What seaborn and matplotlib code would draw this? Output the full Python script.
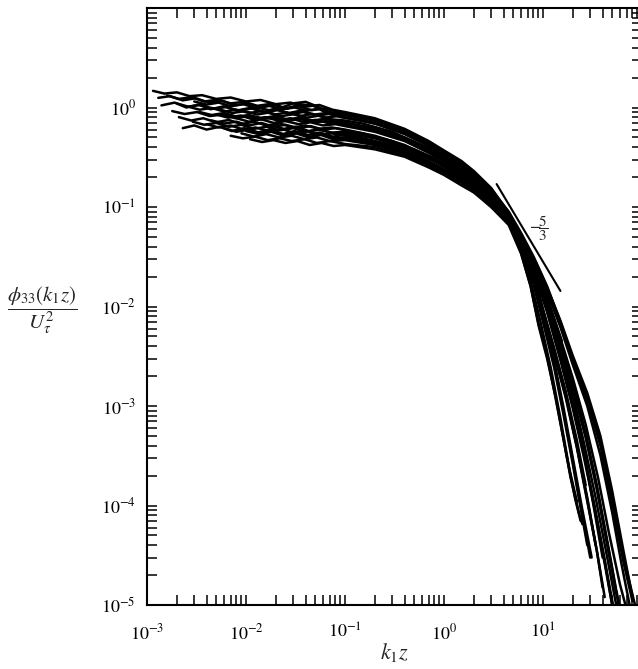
import numpy as np
import pandas as pd
import matplotlib
matplotlib.use("Agg")
import matplotlib.pyplot as plt
import seaborn as sns

# ---- data ----
k01 = [1.15e-3, 1.5e-3, 2.0e-3, 2.7e-3, 3.6e-3, 5e-3, 7e-3, 1e-2, 1.4e-2, 2e-2, 2.8e-2, 4e-2, 5.5e-2, 7.5e-2, 0.1, 0.2, 0.4, 0.7, 1.0, 1.5, 2.0, 3.0, 4.5, 6, 8, 11, 15, 20, 26, 33, 42, 50]
p01 = [1.47, 1.38, 1.42, 1.30, 1.33, 1.22, 1.26, 1.15, 1.19, 1.08, 1.12, 1.02, 1.06, 0.95, 0.90, 0.78, 0.61, 0.46, 0.37, 0.29, 0.23, 0.155, 0.088, 0.051, 0.025, 9.5e-3, 3.1e-3, 1.0e-3, 3.3e-4, 1.0e-4, 2.8e-5, 1.0e-5]
k02 = [1.3e-3, 1.7e-3, 2.3e-3, 3.1e-3, 4.2e-3, 5.7e-3, 7.7e-3, 1.05e-2, 1.4e-2, 1.9e-2, 2.6e-2, 3.5e-2, 4.8e-2, 6.5e-2, 0.1, 0.2, 0.4, 0.7, 1.0, 1.5, 2.0, 3.0, 4.5, 6, 8, 11, 15, 20, 28, 38, 50, 65, 85]
p02 = [1.25, 1.30, 1.18, 1.24, 1.12, 1.17, 1.05, 1.10, 1.00, 1.06, 0.97, 1.08, 1.04, 0.88, 0.85, 0.74, 0.58, 0.44, 0.35, 0.28, 0.22, 0.15, 0.09, 0.055, 0.032, 0.016, 7e-3, 3e-3, 1.2e-3, 4.5e-4, 1.2e-4, 3e-5, 1e-5]
k03 = [1.6e-3, 2.1e-3, 2.8e-3, 3.8e-3, 5.2e-3, 7e-3, 9.5e-3, 1.3e-2, 1.8e-2, 2.5e-2, 3.4e-2, 4.6e-2, 6.3e-2, 8.5e-2, 0.12, 0.2, 0.4, 0.7, 1.0, 1.5, 2.0, 3.0, 4.5, 6, 8, 10, 13, 16, 20, 25, 30]
p03 = [1.32, 1.22, 1.27, 1.15, 1.20, 1.10, 1.14, 1.04, 1.09, 0.99, 1.03, 0.94, 0.98, 0.90, 0.84, 0.76, 0.60, 0.45, 0.36, 0.28, 0.21, 0.14, 0.078, 0.041, 0.018, 7.5e-3, 2.6e-3, 9e-4, 2.8e-4, 8e-5, 3e-5]
k04 = [1.8e-3, 2.4e-3, 3.2e-3, 4.3e-3, 5.8e-3, 7.8e-3, 1.05e-2, 1.4e-2, 1.9e-2, 2.6e-2, 3.5e-2, 4.8e-2, 6.5e-2, 0.1, 0.2, 0.4, 0.7, 1.0, 1.5, 2.0, 3.0, 4.5, 6, 8, 11, 15, 20, 27, 35, 45, 58]
p04 = [0.92, 0.86, 0.90, 0.82, 0.85, 0.78, 0.82, 0.76, 0.79, 0.73, 0.77, 0.71, 0.73, 0.67, 0.58, 0.47, 0.36, 0.30, 0.235, 0.19, 0.13, 0.08, 0.048, 0.026, 0.011, 4.2e-3, 1.6e-3, 5e-4, 1.5e-4, 4e-5, 1e-5]
k05 = [2.0e-3, 2.6e-3, 3.5e-3, 4.7e-3, 6.3e-3, 8.5e-3, 1.15e-2, 1.55e-2, 2.1e-2, 2.8e-2, 3.8e-2, 5.1e-2, 6.9e-2, 0.1, 0.2, 0.4, 0.7, 1.0, 1.5, 2.0, 3.0, 4.5, 6, 8, 10, 13, 17, 22, 28, 35, 42]
p05 = [1.10, 1.02, 1.06, 0.97, 1.01, 0.93, 0.98, 0.90, 0.94, 0.86, 0.90, 0.83, 0.86, 0.80, 0.70, 0.55, 0.42, 0.34, 0.26, 0.21, 0.135, 0.08, 0.045, 0.021, 9e-3, 3.5e-3, 1.3e-3, 4e-4, 1.2e-4, 3.5e-5, 1.2e-5]
k06 = [2.1e-3, 2.8e-3, 3.7e-3, 5e-3, 6.7e-3, 9e-3, 1.2e-2, 1.6e-2, 2.2e-2, 3e-2, 4e-2, 5.4e-2, 7.3e-2, 0.1, 0.2, 0.4, 0.7, 1.0, 1.5, 2.0, 3.0, 4.5, 6, 7.5, 9, 11, 13.5, 17, 21, 24]
p06 = [0.80, 0.74, 0.78, 0.71, 0.75, 0.68, 0.72, 0.66, 0.69, 0.63, 0.66, 0.61, 0.63, 0.60, 0.52, 0.42, 0.32, 0.27, 0.21, 0.17, 0.12, 0.07, 0.035, 0.016, 6.5e-3, 3e-3, 1.2e-3, 3.5e-4, 1.2e-4, 7e-5]
k07 = [2.6e-3, 3.4e-3, 4.5e-3, 6e-3, 8e-3, 1.07e-2, 1.45e-2, 1.95e-2, 2.6e-2, 3.5e-2, 4.7e-2, 6.3e-2, 8.5e-2, 0.12, 0.2, 0.4, 0.7, 1.0, 1.5, 2.0, 3.0, 4.5, 6, 8, 11, 15, 20, 26, 33, 42, 52]
p07 = [1.02, 0.95, 0.99, 0.91, 0.95, 0.88, 0.92, 0.85, 0.89, 0.82, 0.86, 0.79, 0.82, 0.76, 0.69, 0.54, 0.41, 0.33, 0.26, 0.205, 0.14, 0.085, 0.05, 0.024, 9e-3, 3e-3, 1e-3, 3.2e-4, 1e-4, 2.8e-5, 9e-6]
k08 = [2.9e-3, 3.8e-3, 5e-3, 6.7e-3, 9e-3, 1.2e-2, 1.6e-2, 2.2e-2, 3e-2, 4e-2, 5.4e-2, 7.3e-2, 0.1, 0.2, 0.4, 0.7, 1.0, 1.5, 2.0, 3.0, 4.5, 6, 8, 11, 15, 20, 28, 38, 50, 62, 75]
p08 = [0.72, 0.67, 0.70, 0.64, 0.67, 0.61, 0.64, 0.59, 0.62, 0.57, 0.60, 0.56, 0.57, 0.50, 0.40, 0.31, 0.26, 0.20, 0.165, 0.115, 0.075, 0.048, 0.029, 0.014, 6.2e-3, 2.6e-3, 1.0e-3, 3.2e-4, 8.5e-5, 2.6e-5, 1.0e-5]
k09 = [3.4e-3, 4.5e-3, 6e-3, 8e-3, 1.07e-2, 1.45e-2, 1.95e-2, 2.6e-2, 3.5e-2, 4.7e-2, 6.3e-2, 8.5e-2, 0.12, 0.2, 0.4, 0.7, 1.0, 1.5, 2.0, 3.0, 4.5, 6, 8, 10, 13, 17, 22, 28, 35, 40]
p09 = [0.90, 0.84, 0.88, 0.81, 0.84, 0.78, 0.82, 0.76, 0.79, 0.74, 0.77, 0.72, 0.68, 0.62, 0.50, 0.39, 0.32, 0.25, 0.20, 0.13, 0.078, 0.044, 0.02, 8.5e-3, 3.3e-3, 1.2e-3, 3.8e-4, 1.1e-4, 3.5e-5, 1.5e-5]
k10 = [4e-3, 5.3e-3, 7e-3, 9.4e-3, 1.25e-2, 1.7e-2, 2.3e-2, 3.1e-2, 4.1e-2, 5.5e-2, 7.4e-2, 0.1, 0.2, 0.4, 0.7, 1.0, 1.5, 2.0, 3.0, 4.5, 6, 8, 10, 13, 16, 20, 25, 28]
p10 = [0.68, 0.63, 0.66, 0.60, 0.63, 0.58, 0.61, 0.55, 0.58, 0.53, 0.55, 0.52, 0.46, 0.37, 0.29, 0.24, 0.19, 0.155, 0.11, 0.07, 0.039, 0.017, 7e-3, 2.4e-3, 8.5e-4, 2.6e-4, 7.5e-5, 4e-5]
k11 = [5e-3, 6.6e-3, 8.8e-3, 1.17e-2, 1.56e-2, 2.1e-2, 2.8e-2, 3.7e-2, 5e-2, 6.7e-2, 9e-2, 0.12, 0.2, 0.4, 0.7, 1.0, 1.5, 2.0, 3.0, 4.5, 6, 8, 11, 15, 20, 27, 35, 45, 55, 62]
p11 = [0.85, 0.79, 0.83, 0.76, 0.80, 0.74, 0.78, 0.72, 0.75, 0.70, 0.72, 0.68, 0.60, 0.49, 0.38, 0.31, 0.245, 0.195, 0.135, 0.082, 0.05, 0.027, 0.0115, 4.4e-3, 1.7e-3, 5.3e-4, 1.6e-4, 4.2e-5, 1.4e-5, 8e-6]
k12 = [6e-3, 8e-3, 1.07e-2, 1.43e-2, 1.9e-2, 2.5e-2, 3.4e-2, 4.5e-2, 6e-2, 8e-2, 0.1, 0.2, 0.4, 0.7, 1.0, 1.5, 2.0, 3.0, 4.5, 6, 8, 11, 15, 20, 26, 33, 42, 50]
p12 = [0.62, 0.57, 0.60, 0.55, 0.58, 0.53, 0.56, 0.51, 0.54, 0.49, 0.50, 0.44, 0.36, 0.28, 0.235, 0.185, 0.15, 0.105, 0.07, 0.045, 0.023, 8.8e-3, 2.9e-3, 9.5e-4, 3e-4, 9.5e-5, 2.6e-5, 1e-5]
k13 = [7e-3, 9.3e-3, 1.24e-2, 1.65e-2, 2.2e-2, 2.9e-2, 3.9e-2, 5.2e-2, 7e-2, 0.1, 0.2, 0.4, 0.7, 1.0, 1.5, 2.0, 3.0, 4.5, 6, 8, 10, 13, 17, 22, 28, 34]
p13 = [0.52, 0.49, 0.51, 0.47, 0.49, 0.46, 0.48, 0.44, 0.46, 0.43, 0.40, 0.33, 0.26, 0.22, 0.175, 0.145, 0.10, 0.068, 0.042, 0.02, 8.8e-3, 3.4e-3, 1.25e-3, 3.9e-4, 1.15e-4, 4e-5]
k14 = [8e-3, 1.07e-2, 1.43e-2, 1.9e-2, 2.5e-2, 3.4e-2, 4.5e-2, 6e-2, 8e-2, 0.1, 0.2, 0.4, 0.7, 1.0, 1.5, 2.0, 3.0, 4.5, 6, 8, 11, 15, 20, 28, 38, 50, 65, 80]
p14 = [0.78, 0.72, 0.76, 0.70, 0.73, 0.68, 0.71, 0.66, 0.68, 0.65, 0.57, 0.46, 0.35, 0.29, 0.225, 0.18, 0.125, 0.08, 0.05, 0.03, 0.015, 6.6e-3, 2.8e-3, 1.15e-3, 4e-4, 1.05e-4, 2.7e-5, 1.1e-5]
k15 = [9e-3, 1.2e-2, 1.6e-2, 2.15e-2, 2.9e-2, 3.9e-2, 5.2e-2, 7e-2, 0.1, 0.2, 0.4, 0.7, 1.0, 1.5, 2.0, 3.0, 4.5, 6, 8, 11, 15, 20, 27, 35, 45, 55]
p15 = [0.55, 0.51, 0.54, 0.50, 0.52, 0.48, 0.50, 0.46, 0.47, 0.42, 0.345, 0.27, 0.225, 0.18, 0.148, 0.105, 0.072, 0.046, 0.025, 0.0105, 4e-3, 1.5e-3, 4.8e-4, 1.45e-4, 3.8e-5, 1.3e-5]
k16 = [1.1e-2, 1.45e-2, 1.9e-2, 2.5e-2, 3.3e-2, 4.4e-2, 5.8e-2, 7.7e-2, 0.1, 0.2, 0.4, 0.7, 1.0, 1.5, 2.0, 3.0, 4.5, 6, 7.5, 9, 11, 13, 16, 19, 23, 25]
p16 = [0.48, 0.45, 0.47, 0.44, 0.46, 0.42, 0.44, 0.41, 0.42, 0.38, 0.32, 0.25, 0.21, 0.165, 0.14, 0.10, 0.066, 0.034, 0.016, 6.8e-3, 3.2e-3, 1.4e-3, 4.8e-4, 1.9e-4, 8.5e-5, 6.5e-5]
k17 = [1.3e-2, 1.7e-2, 2.3e-2, 3e-2, 4e-2, 5.3e-2, 7e-2, 0.1, 0.2, 0.4, 0.7, 1.0, 1.5, 2.0, 3.0, 4.5, 6, 8, 10, 13, 16, 20, 25, 31]
p17 = [1.00, 0.94, 1.00, 1.10, 1.14, 1.02, 0.88, 0.84, 0.74, 0.58, 0.44, 0.36, 0.27, 0.215, 0.14, 0.08, 0.042, 0.019, 8e-3, 2.8e-3, 1e-3, 3e-4, 9e-5, 3e-5]
k18 = [1.8e-2, 2.4e-2, 3.2e-2, 4.3e-2, 5.7e-2, 7.6e-2, 0.1, 0.2, 0.4, 0.7, 1.0, 1.5, 2.0, 3.0, 4.5, 6, 8, 10, 12.5, 15.5]
p18 = [0.66, 0.61, 0.64, 0.58, 0.60, 0.55, 0.55, 0.49, 0.40, 0.31, 0.255, 0.20, 0.165, 0.12, 0.08, 0.05, 0.03, 0.017, 8.5e-3, 4.5e-3]
k19 = [1.4e-3, 1.9e-3, 2.5e-3, 3.3e-3, 4.4e-3, 6e-3, 8e-3, 1.1e-2, 1.5e-2, 2e-2, 2.7e-2, 3.6e-2, 4.9e-2, 6.6e-2, 9e-2, 0.15, 0.3, 0.5, 0.8, 1.2, 2.0, 3.0, 4.5, 6, 8, 11, 15, 20, 26, 34, 44, 56]
p19 = [1.05, 1.12, 1.00, 1.07, 0.96, 1.03, 0.93, 0.99, 0.90, 0.96, 0.88, 0.93, 0.85, 0.88, 0.80, 0.74, 0.62, 0.50, 0.40, 0.32, 0.22, 0.145, 0.085, 0.052, 0.027, 0.011, 3.8e-3, 1.3e-3, 4.2e-4, 1.2e-4, 3.2e-5, 9e-6]
k20 = [2.3e-3, 3e-3, 4e-3, 5.4e-3, 7.2e-3, 9.6e-3, 1.3e-2, 1.75e-2, 2.35e-2, 3.1e-2, 4.2e-2, 5.6e-2, 7.5e-2, 0.1, 0.15, 0.3, 0.5, 0.8, 1.2, 2.0, 3.0, 4.5, 6, 8, 11, 15, 20, 27, 36, 46, 60, 70]
p20 = [0.62, 0.66, 0.60, 0.64, 0.58, 0.62, 0.56, 0.60, 0.54, 0.58, 0.53, 0.56, 0.51, 0.53, 0.49, 0.42, 0.35, 0.29, 0.23, 0.16, 0.11, 0.074, 0.047, 0.027, 0.012, 4.8e-3, 1.9e-3, 6.5e-4, 1.9e-4, 5.5e-5, 1.6e-5, 9e-6]
k21 = [3e-3, 4e-3, 5.3e-3, 7e-3, 9.4e-3, 1.25e-2, 1.7e-2, 2.3e-2, 3.1e-2, 4.1e-2, 5.5e-2, 7.4e-2, 0.1, 0.15, 0.3, 0.5, 0.8, 1.2, 2.0, 3.0, 4.5, 6, 8, 10, 13, 17, 22, 27]
p21 = [1.15, 1.07, 1.12, 1.03, 1.08, 0.99, 1.04, 0.96, 1.00, 0.93, 0.97, 0.89, 0.86, 0.80, 0.66, 0.52, 0.41, 0.32, 0.215, 0.14, 0.082, 0.046, 0.022, 9.5e-3, 3.8e-3, 1.4e-3, 4.5e-4, 1.6e-4]
k22 = [4.5e-3, 6e-3, 8e-3, 1.07e-2, 1.43e-2, 1.9e-2, 2.5e-2, 3.4e-2, 4.5e-2, 6e-2, 8e-2, 0.11, 0.15, 0.3, 0.5, 0.8, 1.2, 2.0, 3.0, 4.5, 6, 8, 11, 15, 20, 28, 38, 50, 65, 80]
p22 = [0.74, 0.69, 0.72, 0.66, 0.70, 0.64, 0.67, 0.62, 0.65, 0.60, 0.62, 0.58, 0.55, 0.46, 0.38, 0.31, 0.25, 0.175, 0.12, 0.078, 0.05, 0.031, 0.0155, 7.2e-3, 3.2e-3, 1.35e-3, 5e-4, 1.4e-4, 3.5e-5, 1.2e-5]
k23 = [5.5e-3, 7.3e-3, 9.7e-3, 1.3e-2, 1.7e-2, 2.3e-2, 3.1e-2, 4.1e-2, 5.5e-2, 7.3e-2, 0.1, 0.15, 0.3, 0.5, 0.8, 1.2, 2.0, 3.0, 4.5, 6, 7.5, 9.5, 12, 15, 18.5, 22]
p23 = [0.95, 0.88, 0.92, 0.85, 0.89, 0.82, 0.86, 0.79, 0.83, 0.76, 0.74, 0.69, 0.57, 0.45, 0.36, 0.29, 0.20, 0.135, 0.076, 0.038, 0.018, 6.8e-3, 2.4e-3, 7.5e-4, 2.3e-4, 1.1e-4]
k24 = [1e-2, 1.35e-2, 1.8e-2, 2.4e-2, 3.2e-2, 4.3e-2, 5.7e-2, 7.6e-2, 0.1, 0.15, 0.3, 0.5, 0.8, 1.2, 2.0, 3.0, 4.5, 6, 8, 11, 15, 20, 26, 33, 40]
p24 = [0.58, 0.54, 0.57, 0.52, 0.55, 0.50, 0.53, 0.48, 0.49, 0.46, 0.39, 0.32, 0.26, 0.21, 0.155, 0.11, 0.072, 0.046, 0.024, 9.5e-3, 3.3e-3, 1.1e-3, 3.4e-4, 9e-5, 3e-5]

curves_k = [k01, k02, k03, k04, k05, k06, k07, k08, k09, k10, k11, k12,
            k13, k14, k15, k16, k17, k18, k19, k20, k21, k22, k23, k24]
curves_p = [p01, p02, p03, p04, p05, p06, p07, p08, p09, p10, p11, p12,
            p13, p14, p15, p16, p17, p18, p19, p20, p21, p22, p23, p24]

# -5/3 reference slope
slope_k = [3.4, 15.0]
slope_anchor = 0.17
slope_exp = -5.0 / 3.0

xticks = [1e-3, 1e-2, 1e-1, 1e0, 1e1, 1e2]
yticks = [1e-5, 1e-4, 1e-3, 1e-2, 1e-1, 1e0, 1e1]
xtick_labels = [r"$10^{-3}$", r"$10^{-2}$", r"$10^{-1}$", r"$10^{0}$", r"$10^{1}$", ""]
ytick_labels = [r"$10^{-5}$", r"$10^{-4}$", r"$10^{-3}$", r"$10^{-2}$", r"$10^{-1}$", r"$10^{0}$", ""]

frames = []
for i, (kk, pp) in enumerate(zip(curves_k, curves_p)):
    frames.append(pd.DataFrame({"k": kk, "phi": pp, "curve": i}))
df = pd.concat(frames, ignore_index=True)

# ---- style ----
sns.set_theme(style="ticks")
plt.rcParams["font.family"] = ["Liberation Serif", "DejaVu Serif"]
plt.rcParams["mathtext.fontset"] = "stix"

W, H = 638, 669
fig = plt.figure(figsize=(W / 100, H / 100), dpi=100)
L, R, T, B = 147, 642, 8, 605
ax = fig.add_axes([L / W, (H - B) / H, (R - L) / W, (B - T) / H])
ax.set_xscale("log")
ax.set_yscale("log")

sns.lineplot(data=df, x="k", y="phi", units="curve", estimator=None,
             color="black", lw=1.8, sort=False, legend=False, ax=ax)

slope_p = [slope_anchor * (x / slope_k[0]) ** slope_exp for x in slope_k]
ax.plot(slope_k, slope_p, color="black", lw=1.5)
ax.text(9.0, 0.062, r"$\mathbf{-}\!\dfrac{5}{3}$", fontsize=11, ha="center", va="center")

ax.set_xlim(1e-3, 1e2)
ax.set_ylim(1e-5, 1e1)
ax.set_xticks(xticks)
ax.set_yticks(yticks)
ax.set_xticklabels(xtick_labels)
ax.set_yticklabels(ytick_labels)
ax.tick_params(which="both", direction="in", top=True, right=True,
               length=7, width=1.1, color="black", labelsize=13, labelcolor="black")
ax.tick_params(axis="x", pad=13)
ax.tick_params(axis="y", pad=8)
for s in ax.spines.values():
    s.set_linewidth(1.5)
    s.set_color("black")
ax.set_xlabel("")
ax.set_ylabel("")

fig.text((L + R) / 2 / W, 1 - 652 / H, r"$k_1 z$", fontsize=16, ha="center", va="center")
fig.text(42 / W, 1 - 310 / H, r"$\dfrac{\phi_{33}(k_1 z)}{U_\tau^2}$", fontsize=15, ha="center", va="center")

fig.savefig("out.png", dpi=100)
